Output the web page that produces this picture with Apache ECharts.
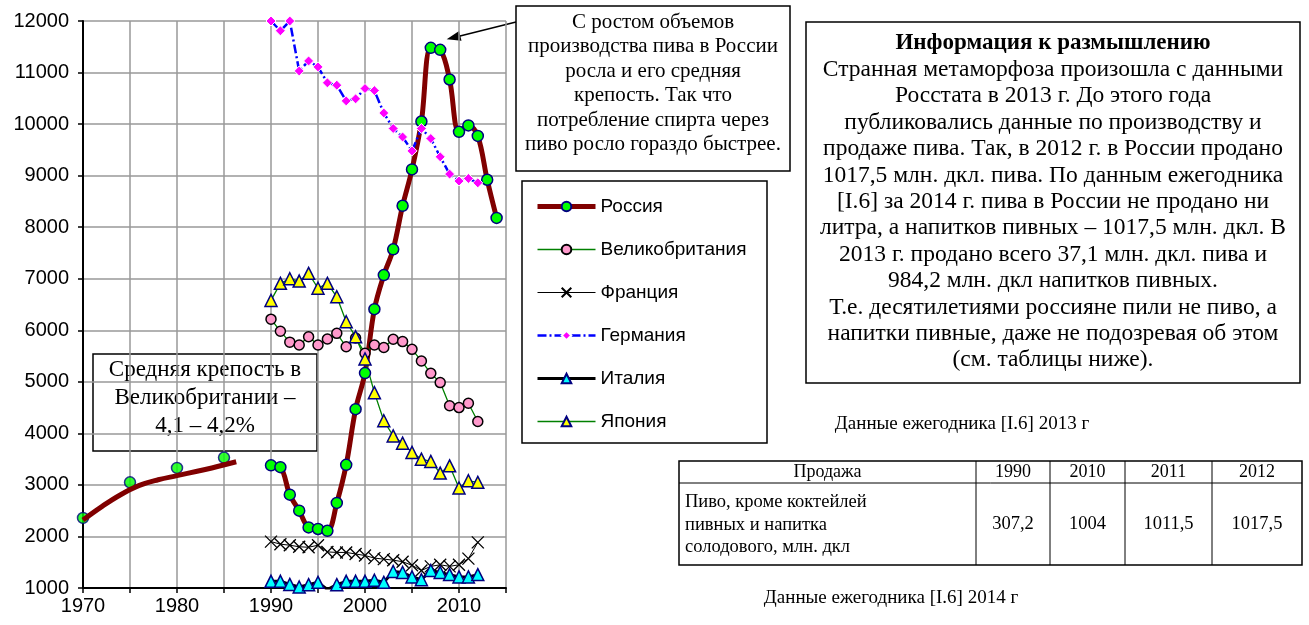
<!DOCTYPE html>
<html>
<head>
<meta charset="utf-8">
<title>Производство пива</title>
<script src="https://cdn.jsdelivr.net/npm/echarts@6/dist/echarts.min.js"></script>
<style>
  html, body { margin: 0; padding: 0; background: #fff; }
  #chart { width: 1309px; height: 625px; }
</style>
</head>
<body>
<div id="chart"></div>
<script>
// Россия 1970-1985 (отдельные точки) и сглаженная линия тренда
var yearsEarly = [1970, 1975, 1980, 1985];
var russiaEarly = [2360, 3050, 3330, 3530];
var trendYears = [1970, 1972, 1974, 1976, 1978, 1980, 1983, 1986.3];
var trendValues = [2320, 2580, 2810, 2990, 3100, 3180, 3300, 3450];

// Россия 1990-2014
var yearsRu = [1990, 1991, 1992, 1993, 1994, 1995, 1996, 1997, 1998, 1999, 2000, 2001, 2002,
  2003, 2004, 2005, 2006, 2007, 2008, 2009, 2010, 2011, 2012, 2013, 2014];
var russia = [3380, 3345, 2810, 2500, 2175, 2145, 2110, 2650, 3390, 4470, 5170, 6410, 7070,
  7570, 8415, 9120, 10050, 11480, 11440, 10865, 9850, 9975, 9770, 8920, 8180];

// остальные страны 1990-2012
var years = [1990, 1991, 1992, 1993, 1994, 1995, 1996, 1997, 1998, 1999, 2000, 2001, 2002,
  2003, 2004, 2005, 2006, 2007, 2008, 2009, 2010, 2011, 2012];
var uk = [6215, 5980, 5770, 5715, 5875, 5715, 5830, 5940, 5680, 5850, 5555, 5715, 5665,
  5825, 5780, 5630, 5405, 5165, 4985, 4535, 4500, 4585, 4230];
var france = [1900, 1850, 1830, 1800, 1790, 1830, 1700, 1690, 1690, 1660, 1630, 1580, 1560,
  1540, 1510, 1440, 1340, 1420, 1450, 1420, 1450, 1570, 1885];
var germany = [12000, 11810, 12000, 11030, 11225, 11110, 10800, 10755, 10450, 10490, 10690, 10650, 10215,
  9915, 9750, 9480, 9915, 9720, 9365, 9030, 8895, 8945, 8860];
var italy = [1130, 1130, 1070, 1020, 1065, 1110, 970, 1065, 1130, 1130, 1130, 1150, 1110,
  1320, 1300, 1215, 1160, 1340, 1300, 1260, 1215, 1215, 1260];
var japan = [6580, 6910, 7000, 6955, 7105, 6815, 6910, 6650, 6165, 5875, 5445, 4790, 4245,
  3950, 3810, 3630, 3500, 3455, 3230, 3370, 2940, 3080, 3050];

var legendNames = ['Россия', 'Великобритания', 'Франция', 'Германия', 'Италия', 'Япония'];
var legendLineWidths = [5, 1.3, 1, 2.5, 3, 1.3];

// таблица
var tableHead = ['Продажа', '1990', '2010', '2011', '2012'];
var tableRowName = 'Пиво, кроме коктейлей\nпивных и напитка\nсолодового, млн. дкл';
var tableRow = ['307,2', '1004', '1011,5', '1017,5'];

function pairs(xs, ys) {
  return xs.map(function (x, i) { return [x, ys[i]]; });
}

var serif = '"Liberation Serif", "Times New Roman", serif';
var sans = '"Liberation Sans", Arial, sans-serif';

var myChart = echarts.init(document.getElementById('chart'));

var colX = [679, 976, 1050, 1125, 1212, 1302];
var tableGraphics = [
  { type: 'rect', shape: { x: 679, y: 461, width: 623, height: 104 },
    style: { fill: '#fff', stroke: '#000', lineWidth: 1.5 } },
  { type: 'line', shape: { x1: 679, y1: 483, x2: 1302, y2: 483 }, style: { stroke: '#000', lineWidth: 1 } }
];
for (var c = 1; c < colX.length - 1; c++) {
  tableGraphics.push({ type: 'line', shape: { x1: colX[c], y1: 461, x2: colX[c], y2: 565 },
    style: { stroke: '#000', lineWidth: 1 } });
}
tableHead.forEach(function (t, i) {
  tableGraphics.push({ type: 'text', style: { text: t, x: (colX[i] + colX[i + 1]) / 2, y: 472,
    align: 'center', verticalAlign: 'middle', font: '18px ' + serif, fill: '#000' } });
});
tableGraphics.push({ type: 'text', style: { text: tableRowName, x: 685, y: 491, lineHeight: 22.5,
  align: 'left', verticalAlign: 'top', font: '18.5px ' + serif, fill: '#000' } });
tableRow.forEach(function (t, i) {
  tableGraphics.push({ type: 'text', style: { text: t, x: (colX[i + 1] + colX[i + 2]) / 2, y: 524,
    align: 'center', verticalAlign: 'middle', font: '18.5px ' + serif, fill: '#000' } });
});

var option = {
  animation: false,
  backgroundColor: '#fff',
  grid: { left: 83, right: 803, top: 21, bottom: 37 },
  legend: {
    data: legendNames.map(function (n, i) {
      return { name: n, lineStyle: { width: legendLineWidths[i] } };
    }),
    orient: 'vertical',
    left: 530,
    top: 192,
    itemWidth: 58,
    itemHeight: 12,
    itemGap: 24,
    textStyle: { fontFamily: sans, fontSize: 19, color: '#000' }
  },
  xAxis: {
    type: 'value',
    min: 1970,
    max: 2015,
    interval: 5,
    axisLine: { lineStyle: { color: '#000', width: 2 } },
    axisTick: { show: true, length: 5, lineStyle: { color: '#000', width: 1.5 } },
    axisLabel: {
      margin: 8,
      fontFamily: sans,
      fontSize: 20,
      color: '#000',
      formatter: function (v) { return v % 10 === 0 ? String(v) : ''; }
    },
    splitLine: { show: true, lineStyle: { color: '#999', width: 1.5 } }
  },
  yAxis: {
    type: 'value',
    min: 1000,
    max: 12000,
    interval: 1000,
    axisLine: { show: true, lineStyle: { color: '#000', width: 2 } },
    axisTick: { show: true, length: 5, lineStyle: { color: '#000', width: 1.5 } },
    axisLabel: {
      margin: 14, fontFamily: sans, fontSize: 20, color: '#000',
      formatter: function (v) { return String(v); }
    },
    splitLine: { show: true, lineStyle: { color: '#999', width: 1.5 } }
  },
  series: [
    {
      name: 'Россия 1970-1985',
      type: 'scatter',
      symbol: 'circle',
      symbolSize: 11,
      itemStyle: { color: '#00ff00', borderColor: '#000080', borderWidth: 1.5 },
      data: pairs(yearsEarly, russiaEarly)
    },
    {
      name: 'тренд',
      type: 'line',
      smooth: 0.4,
      symbol: 'none',
      lineStyle: { color: '#800000', width: 5 },
      data: pairs(trendYears, trendValues)
    },
    {
      name: 'Россия',
      type: 'line',
      smooth: 0.35,
      symbol: 'circle',
      symbolSize: 11,
      lineStyle: { color: '#800000', width: 5 },
      itemStyle: { color: '#00ff00', borderColor: '#000080', borderWidth: 1.5 },
      data: pairs(yearsRu, russia)
    },
    {
      name: 'Великобритания',
      type: 'line',
      symbol: 'circle',
      symbolSize: 10,
      lineStyle: { color: '#008000', width: 1.3 },
      itemStyle: { color: '#ff99cc', borderColor: '#000', borderWidth: 1.5 },
      data: pairs(years, uk)
    },
    {
      name: 'Франция',
      type: 'line',
      symbol: 'path://M0 0L10 10M10 0L0 10',
      symbolSize: 12,
      lineStyle: { color: '#000', width: 1 },
      itemStyle: { color: '#000', borderColor: '#000', borderWidth: 1.3 },
      data: pairs(years, france)
    },
    {
      name: 'Германия',
      type: 'line',
      symbol: 'diamond',
      symbolSize: 10,
      lineStyle: { color: '#0000ff', width: 2.5, type: [9, 3, 2, 3] },
      itemStyle: { color: '#ff00ff', borderColor: '#fff', borderWidth: 1 },
      data: pairs(years, germany)
    },
    {
      name: 'Италия',
      type: 'line',
      symbol: 'triangle',
      symbolSize: 12,
      lineStyle: { color: '#000', width: 3 },
      itemStyle: { color: '#00ffff', borderColor: '#000080', borderWidth: 1.5 },
      data: pairs(years, italy)
    },
    {
      name: 'Япония',
      type: 'line',
      symbol: 'triangle',
      symbolSize: 12,
      lineStyle: { color: '#008000', width: 1.3 },
      itemStyle: { color: '#ffff00', borderColor: '#000080', borderWidth: 1.5 },
      data: pairs(years, japan)
    }
  ],
  graphic: [
    // рамка легенды
    { type: 'rect', z: 1, shape: { x: 522, y: 181, width: 245, height: 262 },
      style: { fill: 'none', stroke: '#000', lineWidth: 1.5 } },
    // стрелка и верхняя подпись
    { type: 'line', shape: { x1: 516, y1: 22, x2: 458, y2: 36.5 }, style: { stroke: '#000', lineWidth: 1.5 } },
    { type: 'polygon', shape: { points: [[446.7, 39.3], [461.5, 40.8], [459.1, 31.1]] }, style: { fill: '#000' } },
    { type: 'rect', shape: { x: 516, y: 6, width: 274, height: 165 },
      style: { fill: '#fff', stroke: '#000', lineWidth: 1.5 } },
    { type: 'text', style: {
        text: 'С ростом объемов\nпроизводства пива в России\nросла и его средняя\nкрепость. Так что\nпотребление спирта через\nпиво росло гораздо быстрее.',
        x: 653, y: 10, lineHeight: 24.5, align: 'center', verticalAlign: 'top',
        font: '21px ' + serif, fill: '#000' } },
    // информация к размышлению
    { type: 'rect', shape: { x: 806, y: 22, width: 494, height: 361 },
      style: { fill: '#fff', stroke: '#000', lineWidth: 1.5 } },
    { type: 'text', style: { text: 'Информация к размышлению', x: 1053, y: 43.5,
        align: 'center', verticalAlign: 'middle', font: 'bold 23px ' + serif, fill: '#000' } },
    { type: 'text', style: {
        text: 'Странная метаморфоза произошла с данными\nРосстата в 2013 г. До этого года\nпубликовались данные по производству и\nпродаже пива. Так, в 2012 г. в России продано\n1017,5 млн. дкл. пива. По данным ежегодника\n[I.6] за 2014 г. пива в России не продано ни\nлитра, а напитков пивных – 1017,5 млн. дкл. В\n2013 г. продано всего 37,1 млн. дкл. пива и\n984,2 млн. дкл напитков пивных.\nТ.е. десятилетиями россияне пили не пиво, а\nнапитки пивные, даже не подозревая об этом\n(см. таблицы ниже).',
        x: 1053, y: 56.7, lineHeight: 26.4, align: 'center', verticalAlign: 'top',
        font: '23.5px ' + serif, fill: '#000' } },
    // средняя крепость
    { type: 'rect', shape: { x: 93, y: 354, width: 224, height: 97 },
      style: { fill: '#fff', stroke: '#000', lineWidth: 1.5 } },
    { type: 'text', style: { text: 'Средняя крепость в\nВеликобритании –\n4,1 – 4,2%',
        x: 205, y: 356, lineHeight: 28, align: 'center', verticalAlign: 'top',
        font: '23px ' + serif, fill: '#000' } },
    // подписи к таблице
    { type: 'text', style: { text: 'Данные ежегодника [I.6] 2013 г', x: 962, y: 424,
        align: 'center', verticalAlign: 'middle', font: '19px ' + serif, fill: '#000' } },
    { type: 'text', style: { text: 'Данные ежегодника [I.6] 2014 г', x: 891, y: 598,
        align: 'center', verticalAlign: 'middle', font: '19px ' + serif, fill: '#000' } }
  ].concat(tableGraphics)
};

myChart.setOption(option);
window.onresize = function () {
  myChart.resize();
};
</script>
</body>
</html>
